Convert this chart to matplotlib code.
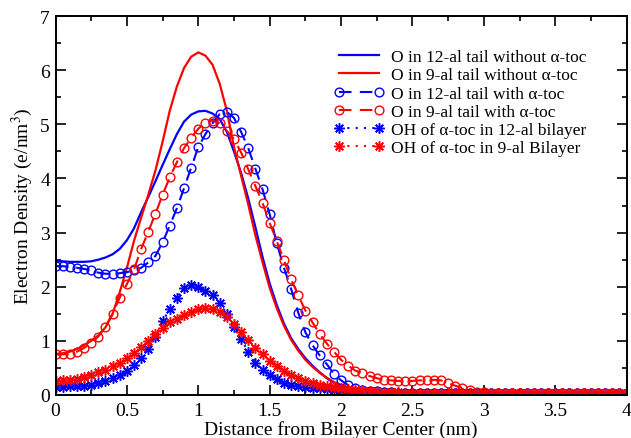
import numpy as np
import matplotlib
matplotlib.use("Agg")
import matplotlib.pyplot as plt
from matplotlib.ticker import MultipleLocator

plt.rcParams['font.family'] = ['Liberation Serif', 'DejaVu Serif']
plt.rcParams['mathtext.fontset'] = 'stix'

# distance grid (nm)
x = np.round(np.arange(0, 4.001, 0.05), 2)

o12_without = [2.48, 2.47, 2.46, 2.46, 2.46, 2.47, 2.50, 2.54, 2.60, 2.70,
               2.86, 3.08, 3.38, 3.66, 3.95, 4.25, 4.54, 4.82, 5.05, 5.18,
               5.24, 5.25, 5.20, 5.10, 4.86, 4.50, 4.10, 3.63, 3.10, 2.55,
               2.06, 1.66, 1.32, 1.05, 0.85, 0.68, 0.54, 0.42, 0.31, 0.22,
               0.16, 0.12, 0.09, 0.07, 0.06, 0.05, 0.04, 0.03, 0.03, 0.03,
               0.03, 0.03, 0.03, 0.03, 0.03, 0.03, 0.03, 0.03, 0.03, 0.03,
               0.03, 0.03, 0.03, 0.03, 0.03, 0.03, 0.03, 0.03, 0.03, 0.03,
               0.03, 0.03, 0.03, 0.03, 0.03, 0.03, 0.03, 0.03, 0.03, 0.03,
               0.03]
o9_without = [0.76, 0.77, 0.80, 0.85, 0.92, 1.00, 1.10, 1.25, 1.50, 1.90,
              2.35, 2.85, 3.28, 3.70, 4.15, 4.68, 5.25, 5.70, 6.04, 6.25,
              6.33, 6.27, 6.10, 5.75, 5.25, 4.58, 4.05, 3.52, 2.95, 2.45,
              1.98, 1.60, 1.28, 1.02, 0.82, 0.65, 0.52, 0.41, 0.32, 0.24,
              0.18, 0.14, 0.11, 0.09, 0.07, 0.06, 0.05, 0.04, 0.03, 0.03,
              0.03, 0.03, 0.03, 0.03, 0.03, 0.03, 0.03, 0.03, 0.03, 0.03,
              0.03, 0.03, 0.03, 0.03, 0.03, 0.03, 0.03, 0.03, 0.03, 0.03,
              0.03, 0.03, 0.03, 0.03, 0.03, 0.03, 0.03, 0.03, 0.03, 0.03,
              0.03]
o12_with = [2.38, 2.38, 2.37, 2.35, 2.33, 2.30, 2.26, 2.24, 2.24, 2.25,
            2.27, 2.30, 2.35, 2.45, 2.57, 2.82, 3.13, 3.45, 3.82, 4.20,
            4.58, 4.82, 5.02, 5.19, 5.23, 5.12, 4.86, 4.56, 4.18, 3.80,
            3.34, 2.80, 2.35, 1.96, 1.52, 1.16, 0.92, 0.73, 0.57, 0.39,
            0.27, 0.18, 0.13, 0.10, 0.08, 0.07, 0.06, 0.05, 0.04, 0.04,
            0.04, 0.03, 0.03, 0.03, 0.03, 0.03, 0.03, 0.03, 0.03, 0.03,
            0.03, 0.03, 0.03, 0.03, 0.03, 0.03, 0.03, 0.03, 0.03, 0.03,
            0.03, 0.03, 0.03, 0.03, 0.03, 0.03, 0.03, 0.03, 0.03, 0.03,
            0.03]
o9_with = [0.75, 0.75, 0.76, 0.80, 0.87, 0.96, 1.08, 1.26, 1.50, 1.80,
           2.05, 2.32, 2.70, 3.02, 3.35, 3.70, 4.02, 4.30, 4.56, 4.75,
           4.92, 5.03, 5.07, 5.02, 4.88, 4.73, 4.48, 4.17, 3.86, 3.55,
           3.18, 2.84, 2.49, 2.14, 1.84, 1.56, 1.34, 1.13, 0.95, 0.80,
           0.65, 0.54, 0.45, 0.40, 0.35, 0.31, 0.28, 0.27, 0.26, 0.26,
           0.26, 0.27, 0.27, 0.28, 0.27, 0.22, 0.17, 0.13, 0.09, 0.06,
           0.05, 0.04, 0.03, 0.03, 0.03, 0.03, 0.03, 0.03, 0.03, 0.03,
           0.03, 0.03, 0.03, 0.03, 0.03, 0.03, 0.03, 0.03, 0.03, 0.03,
           0.03]
oh12 = [0.15, 0.15, 0.16, 0.16, 0.17, 0.19, 0.22, 0.26, 0.31, 0.37,
        0.45, 0.56, 0.69, 0.85, 1.08, 1.36, 1.59, 1.80, 1.97, 2.03,
        2.00, 1.93, 1.85, 1.70, 1.50, 1.25, 1.03, 0.80, 0.60, 0.46,
        0.37, 0.29, 0.23, 0.19, 0.16, 0.14, 0.13, 0.12, 0.11, 0.10,
        0.09, 0.08, 0.07, 0.06, 0.05, 0.05, 0.04, 0.03, 0.03, 0.03,
        0.03, 0.03, 0.03, 0.03, 0.03, 0.03, 0.03, 0.03, 0.03, 0.03,
        0.03, 0.03, 0.03, 0.03, 0.03, 0.03, 0.03, 0.03, 0.03, 0.03,
        0.03, 0.03, 0.03, 0.03, 0.03, 0.03, 0.03, 0.03, 0.03, 0.03,
        0.03]
oh9 = [0.26, 0.27, 0.28, 0.30, 0.33, 0.37, 0.42, 0.47, 0.53, 0.60,
       0.68, 0.77, 0.88, 0.99, 1.12, 1.24, 1.34, 1.41, 1.48, 1.53,
       1.58, 1.60, 1.58, 1.53, 1.44, 1.31, 1.17, 1.01, 0.87, 0.75,
       0.63, 0.53, 0.44, 0.37, 0.31, 0.26, 0.22, 0.19, 0.16, 0.14,
       0.12, 0.11, 0.10, 0.09, 0.08, 0.07, 0.06, 0.05, 0.05, 0.04,
       0.04, 0.03, 0.03, 0.03, 0.03, 0.03, 0.03, 0.03, 0.03, 0.03,
       0.03, 0.03, 0.03, 0.03, 0.03, 0.03, 0.03, 0.03, 0.03, 0.03,
       0.03, 0.03, 0.03, 0.03, 0.03, 0.03, 0.03, 0.03, 0.03, 0.03,
       0.03]

labels = ["O in 12-al tail without \u03b1-toc",
          "O in 9-al tail without \u03b1-toc",
          "O in 12-al tail with \u03b1-toc",
          "O in 9-al tail with \u03b1-toc",
          "OH of \u03b1-toc in 12-al bilayer",
          "OH of \u03b1-toc in 9-al Bilayer"]

fig = plt.figure(figsize=(6.31, 4.39), dpi=100)
ax = fig.add_axes([0.088, 0.098, 0.905, 0.863])

blue = '#0000ff'
red = '#ff0000'
star = (8, 2, 0)

ax.plot(x, o12_without, color=blue, lw=1.6, label=labels[0])
ax.plot(x, o9_without, color=red, lw=1.6, label=labels[1])
ax.plot(x, o12_with, color=blue, lw=1.5, ls=(0, (6, 4)), marker='o', ms=6.3,
        mfc='none', mec=blue, mew=1.0, label=labels[2])
ax.plot(x, o9_with, color=red, lw=1.5, ls=(0, (6, 4)), marker='o', ms=6.3,
        mfc='none', mec=red, mew=1.0, label=labels[3])
ax.plot(x, oh12, color=blue, lw=1.5, ls=(0, (1, 3)), marker=star, ms=7.5,
        mec=blue, mew=1.1, label=labels[4])
ax.plot(x, oh9, color=red, lw=1.5, ls=(0, (1, 3)), marker=star, ms=7.5,
        mec=red, mew=1.1, label=labels[5])

ax.set_xlim(0, 4)
ax.set_ylim(0, 7)
ax.xaxis.set_minor_locator(MultipleLocator(0.25))
ax.yaxis.set_major_locator(MultipleLocator(1))
ax.yaxis.set_minor_locator(MultipleLocator(0.5))
ax.set_xticks(np.arange(0, 4.01, 0.5))
ax.set_xticklabels(['0', '0.5', '1', '1.5', '2', '2.5', '3', '3.5', '4'])
ax.tick_params(which='both', direction='in', top=True, right=True,
               labelsize=14, width=1.2)
ax.tick_params(which='major', length=7)
ax.tick_params(axis='x', which='major', pad=5)
ax.tick_params(axis='y', which='major', pad=4)
ax.tick_params(which='minor', length=3.5)
for s in ax.spines.values():
    s.set_linewidth(1.4)

ax.set_xlabel('Distance from Bilayer Center (nm)', fontsize=14, labelpad=1)
ax.set_ylabel('Electron Density (e/nm$^3$)', fontsize=14, labelpad=4)

fig.legend(loc='upper left', bbox_to_anchor=(334 / 631, 1 - 50 / 439),
           frameon=False, fontsize=12.5, handlelength=2.9, handletextpad=0.4,
           labelspacing=0.12, borderpad=0, borderaxespad=0, numpoints=2)

fig.savefig('out.png', dpi=100)
